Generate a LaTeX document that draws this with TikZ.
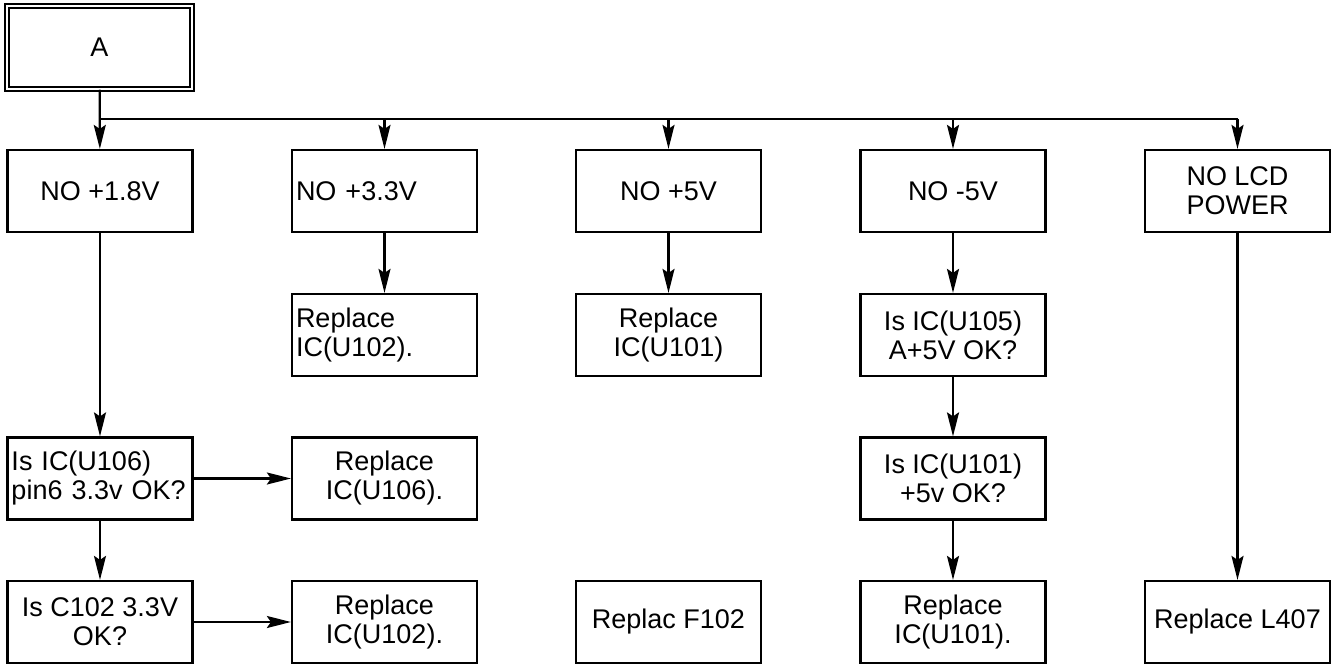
\documentclass[tikz,border=0pt]{standalone}
\usepackage{fontspec}
\setmainfont{Liberation Sans}
\usepackage{tikz}
\usetikzlibrary{arrows.meta,positioning,calc}
\tikzset{
    box/.style={rectangle, draw=black, line width=2.2pt, minimum width=185pt, minimum height=82pt,
                inner sep=3pt, align=center, font=\fontsize{27}{29}\selectfont},
    boxL/.style={box, text width=177pt, align=left},
    start/.style={box, double, double distance=2.5pt, line width=1.5pt, minimum height=83pt},
    flow/.style={line width=2.2pt, -{Stealth[length=24pt,width=12pt,inset=4pt]}},
    wire/.style={line width=2.2pt},
}

\begin{document}
\begin{tikzpicture}[x=1pt,y=-1pt]
    \useasboundingbox (0,0) rectangle (1333,666);

    % Start
    \node[start] (a) at (99.5,47.5) {A};
    \coordinate (bus) at (0,119);

    % Symptoms
    \node[box]  (v18) at (100,191)   {NO +1.8V};
    \node[boxL] (v33) at (384.5,191) {NO +3.3V};
    \node[box]  (v5)  at (668.5,191) {NO +5V};
    \node[box]  (vm5) at (953,191)   {NO -5V};
    \node[box]  (lcd) at (1237.5,191) {NO LCD\\POWER};

    % Second row
    \node[boxL] (r102a) at (384.5,335) {Replace\\IC(U102).};
    \node[box]  (r101a) at (668.5,335) {Replace\\IC(U101)};
    \node[box]  (u105)  at (953,335)   {Is IC(U105)\\A+5V OK?};

    % Third row
    \node[boxL] (u106) at (100,478.5)   {Is IC(U106)\\pin6 3.3v OK?};
    \node[box]  (r106) at (384.5,478.5) {Replace\\IC(U106).};
    \node[box]  (u101) at (953,478.5)   {Is IC(U101)\\+5v OK?};

    % Fourth row
    \node[box] (c102)  at (100,622)    {Is C102 3.3V\\OK?};
    \node[box] (r102b) at (384.5,622)  {Replace\\IC(U102).};
    \node[box] (f102)  at (668.5,622)  {Replac F102};
    \node[box] (r101b) at (953,622)    {Replace\\IC(U101).};
    \node[box] (l407)  at (1237.5,622) {Replace L407};

    % Bus from A
    \draw[flow] (a) -- (v18);
    \draw[wire] (a.south |- bus) -- (lcd.north |- bus);
    \foreach \n in {v33,v5,vm5,lcd}
        \draw[flow] (\n.north |- bus) -- (\n);

    % Branches
    \draw[flow] (v33) -- (r102a);
    \draw[flow] (v5) -- (r101a);
    \draw[flow] (vm5) -- (u105);
    \draw[flow] (u105) -- (u101);
    \draw[flow] (u101) -- (r101b);
    \draw[flow] (lcd) -- (l407);
    \draw[flow] (v18) -- (u106);
    \draw[flow] (u106) -- (c102);
    \draw[flow] (u106) -- (r106);
    \draw[flow] (c102) -- (r102b);
\end{tikzpicture}
\end{document}
